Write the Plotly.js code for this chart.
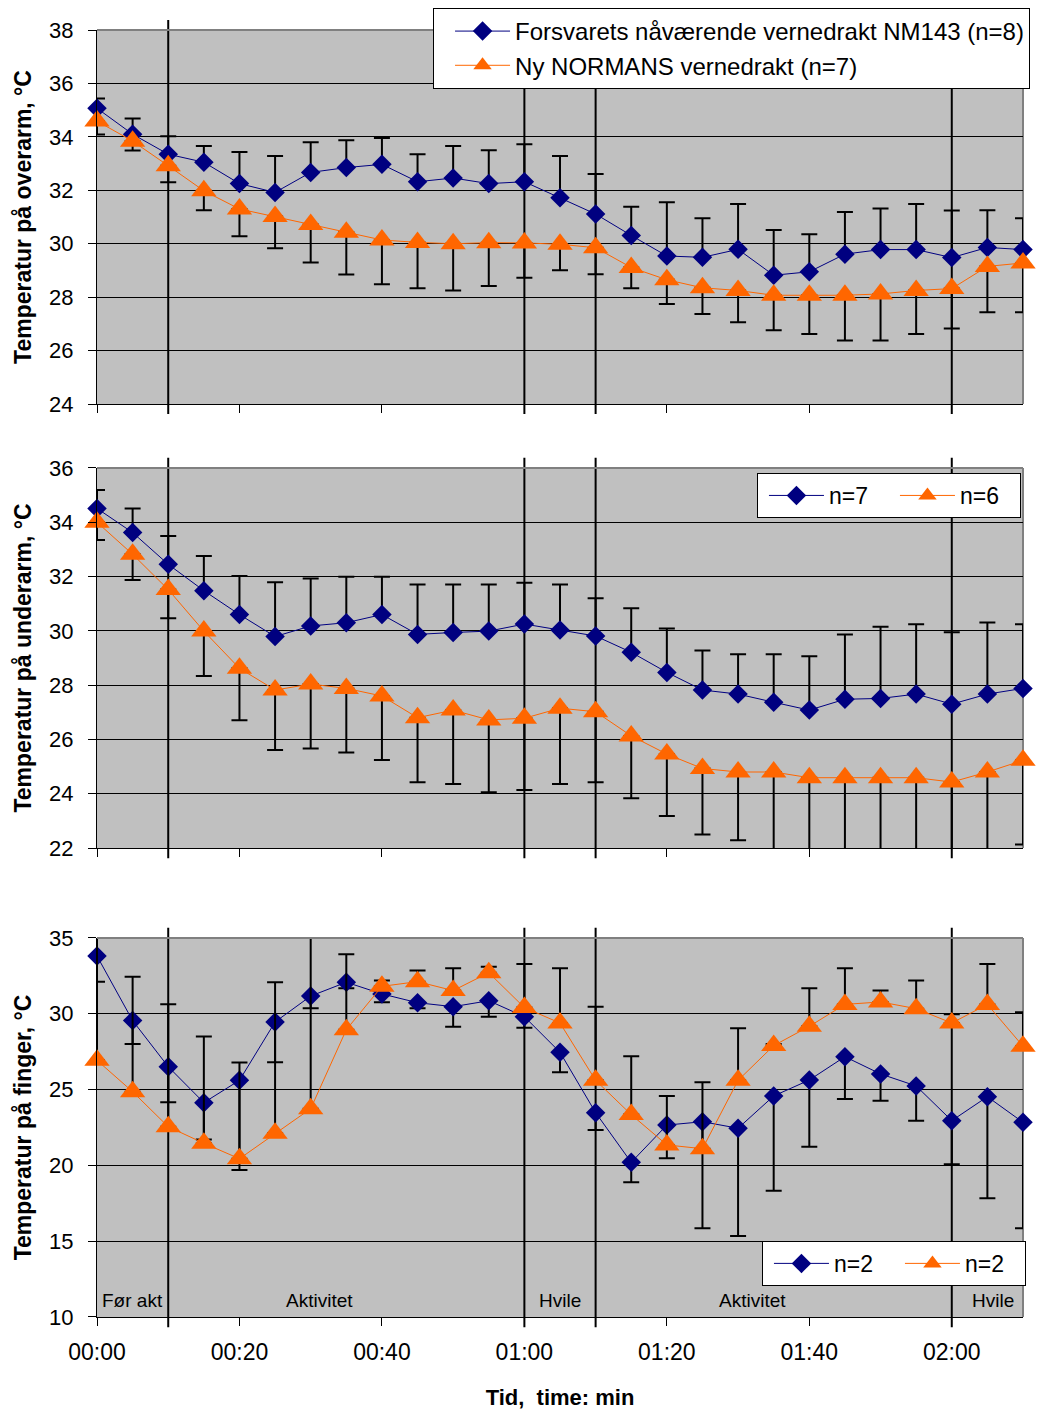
<!DOCTYPE html>
<html>
<head>
<meta charset="utf-8">
<script src="https://cdn.plot.ly/plotly-3.0.1.min.js"></script>
<style>
  html, body { margin: 0; padding: 0; background: #ffffff; }
  #chart { width: 1040px; height: 1410px; }
</style>
</head>
<body>
<div id="chart"></div>
<script>
// Measurement times (minutes from start) and x-axis labels
const minutes = [0, 5, 10, 15, 20, 25, 30, 35, 40, 45, 50, 55, 60, 65, 70, 75, 80, 85, 90, 95, 100, 105, 110, 115, 120, 125, 130];
const tickMinutes = [0, 20, 40, 60, 80, 100, 120];
const tickLabels = ['00:00', '00:20', '00:40', '01:00', '01:20', '01:40', '02:00'];

// Phase boundaries and phase names
const phaseBounds = [10, 60, 70, 120];
const phaseNames = ['Før akt', 'Aktivitet', 'Hvile', 'Aktivitet', 'Hvile'];
const phaseNameMinutes = [5, 31.3, 65, 92, 125.8];

// Upper arm (overarm): NM143 mean + SD up, NORMANS mean + SD down
const overarmNM143 = [35.07, 34.10, 33.35, 33.05, 32.25, 31.92, 32.67, 32.85, 32.97, 32.32, 32.46, 32.25, 32.32, 31.72, 31.11, 30.31, 29.54, 29.49, 29.79, 28.82, 28.95, 29.61, 29.78, 29.78, 29.48, 29.86, 29.78];
const overarmNM143Plus = [0.37, 0.59, 0.67, 0.61, 1.18, 1.36, 1.13, 1.02, 0.99, 1.03, 1.20, 1.25, 1.40, 1.56, 1.50, 1.07, 2.01, 1.46, 1.70, 1.69, 1.40, 1.58, 1.54, 1.71, 1.76, 1.39, 1.17];
const overarmNormans = [34.59, 33.84, 32.92, 31.98, 31.30, 31.02, 30.72, 30.43, 30.14, 30.05, 30.00, 30.04, 30.03, 29.98, 29.85, 29.11, 28.65, 28.35, 28.25, 28.07, 28.07, 28.07, 28.12, 28.25, 28.32, 29.15, 29.28];
const overarmNormansMinus = [0.50, 0.35, 0.62, 0.73, 1.02, 1.19, 1.42, 1.58, 1.66, 1.72, 1.75, 1.62, 1.30, 0.97, 0.99, 0.78, 0.91, 0.98, 1.19, 1.31, 1.45, 1.69, 1.74, 1.63, 1.49, 1.72, 1.85];

// Forearm (underarm)
const underarmNM143 = [34.51, 33.62, 32.45, 31.48, 30.60, 29.79, 30.18, 30.30, 30.60, 29.87, 29.94, 29.99, 30.25, 30.03, 29.81, 29.21, 28.47, 27.82, 27.67, 27.37, 27.08, 27.48, 27.51, 27.67, 27.30, 27.67, 27.88];
const underarmNM143Plus = [0.68, 0.89, 1.04, 1.28, 1.42, 2.00, 1.75, 1.69, 1.39, 1.84, 1.77, 1.72, 1.52, 1.68, 1.39, 1.62, 1.62, 1.46, 1.47, 1.77, 1.98, 2.39, 2.64, 2.57, 2.65, 2.64, 2.36];
const underarmNormans = [34.00, 32.82, 31.52, 29.99, 28.62, 27.82, 28.04, 27.88, 27.60, 26.80, 27.08, 26.72, 26.78, 27.15, 27.02, 26.13, 25.46, 24.93, 24.80, 24.80, 24.59, 24.59, 24.59, 24.59, 24.43, 24.80, 25.23];
const underarmNormansMinus = [0.65, 0.95, 1.06, 1.65, 1.91, 2.21, 2.37, 2.36, 2.36, 2.38, 2.72, 2.67, 2.64, 2.79, 2.60, 2.30, 2.28, 2.43, 2.51, 2.87, 2.93, 3.00, 3.00, 3.00, 2.85, 3.20, 3.10];

// Finger: NM143 SD down, NORMANS SD up
const fingerNM143 = [33.81, 29.55, 26.51, 24.14, 25.61, 29.46, 31.17, 32.08, 31.31, 30.73, 30.47, 30.86, 29.81, 27.46, 23.48, 20.20, 22.66, 22.88, 22.45, 24.58, 25.63, 27.17, 26.03, 25.24, 22.95, 24.53, 22.84];
const fingerNM143Minus = [1.69, 1.55, 2.35, 2.44, 5.91, 2.66, 0.81, 0.40, 0.55, 0.37, 1.32, 1.05, 0.73, 1.32, 1.15, 1.32, 2.19, 7.03, 7.11, 6.25, 4.40, 2.79, 1.76, 2.29, 2.88, 6.70, 6.99];
const fingerNormans = [26.93, 24.86, 22.55, 21.46, 20.44, 22.12, 23.74, 28.95, 31.81, 32.12, 31.53, 32.71, 30.41, 29.39, 25.61, 23.35, 21.35, 21.10, 25.61, 27.90, 29.17, 30.62, 30.78, 30.34, 29.39, 30.62, 27.86];
const fingerNormansPlus = [8.07, 7.59, 8.08, 7.04, 6.34, 9.96, 11.90, 4.97, 0.38, 0.73, 1.47, 0.39, 2.87, 3.61, 4.86, 3.85, 3.23, 4.38, 3.43, 0.10, 2.51, 2.38, 0.75, 1.85, 0.58, 2.66, 2.24];

// Series names shown in each panel's legend
const namesOverarm = ['Forsvarets nåværende vernedrakt NM143 (n=8)', 'Ny NORMANS vernedrakt (n=7)'];
const namesUnderarm = ['n=7', 'n=6'];
const namesFinger = ['n=2', 'n=2'];
const yTitles = ['Temperatur på overarm, °C', 'Temperatur på underarm, °C', 'Temperatur på finger, °C'];

const FONT = 'Liberation Sans, Arial, Helvetica, sans-serif';
const NAVY = '#000080';
const ORANGE = '#FF6600';
const none = minutes.map(() => 0);

function errorBars(plus, minus) {
  return { type: 'data', symmetric: false, array: plus, arrayminus: minus,
           color: '#000000', thickness: 2, width: 8 };
}

function nm143(suffix, legendId, name, y, plus, minus) {
  return {
    type: 'scatter', mode: 'lines+markers', x: minutes, y: y, name: name,
    xaxis: 'x' + suffix, yaxis: 'y' + suffix, legend: legendId, cliponaxis: false,
    line: { color: NAVY, width: 1 },
    marker: { symbol: 'diamond', size: 15, color: NAVY },
    error_y: errorBars(plus, minus)
  };
}

function normans(suffix, legendId, name, y, plus, minus) {
  return {
    type: 'scatter', mode: 'lines+markers', x: minutes, y: y, name: name,
    xaxis: 'x' + suffix, yaxis: 'y' + suffix, legend: legendId, cliponaxis: false,
    line: { color: ORANGE, width: 1 },
    marker: { symbol: 'triangle-up', size: 22, color: ORANGE },
    error_y: errorBars(plus, minus)
  };
}

const traces = [
  nm143('', 'legend', namesOverarm[0], overarmNM143, overarmNM143Plus, none),
  normans('', 'legend', namesOverarm[1], overarmNormans, none, overarmNormansMinus),
  nm143('2', 'legend2', namesUnderarm[0], underarmNM143, underarmNM143Plus, none),
  normans('2', 'legend2', namesUnderarm[1], underarmNormans, none, underarmNormansMinus),
  nm143('3', 'legend3', namesFinger[0], fingerNM143, none, fingerNM143Minus),
  normans('3', 'legend3', namesFinger[1], fingerNormans, fingerNormansPlus, none)
];

function xAxis(anchor, showLabels, title) {
  const ax = {
    anchor: anchor, domain: [0, 1], range: [0, 130],
    tickmode: 'array', tickvals: tickMinutes, ticktext: tickLabels,
    showticklabels: showLabels, ticks: 'outside', ticklen: 8, tickwidth: 1, tickcolor: '#000',
    ticklabelstandoff: 6,
    showgrid: false, zeroline: false, showline: true, linecolor: '#000', linewidth: 1,
    tickfont: { family: FONT, size: 23, color: '#000' }, fixedrange: true
  };
  if (title) {
    ax.title = { text: title, standoff: 26, font: { family: FONT, size: 22, color: '#000', weight: 'bold' } };
  }
  return ax;
}

function yAxis(anchor, domain, range, dtick, title) {
  return {
    anchor: anchor, domain: domain, range: range, tick0: range[0], dtick: dtick,
    ticks: 'outside', ticklen: 8, tickwidth: 1, tickcolor: '#000', ticklabelstandoff: 10,
    showgrid: true, gridcolor: '#000', gridwidth: 1,
    zeroline: false, showline: true, linecolor: '#000', linewidth: 1,
    tickfont: { family: FONT, size: 22, color: '#000' }, fixedrange: true,
    title: { text: title, standoff: 11, font: { family: FONT, size: 23, color: '#000', weight: 'bold' } }
  };
}

// Phase separators, extending a little past each panel, plus the grey plot frame
const shapes = [];
['', '2', '3'].forEach(function (s) {
  phaseBounds.forEach(function (t) {
    shapes.push({ type: 'line', layer: 'below', xref: 'x' + s, yref: 'y' + s + ' domain',
                  x0: t, x1: t, y0: -0.027, y1: 1.027, line: { color: '#000', width: 2 } });
  });
  shapes.push({ type: 'line', layer: 'above', xref: 'x' + s + ' domain', yref: 'y' + s + ' domain',
                x0: 0, x1: 1, y0: 1, y1: 1, line: { color: '#808080', width: 2 } });
  shapes.push({ type: 'line', layer: 'below', xref: 'x' + s + ' domain', yref: 'y' + s + ' domain',
                x0: 1, x1: 1, y0: 0, y1: 1, line: { color: '#808080', width: 2 } });
});

const annotations = phaseNames.map(function (txt, i) {
  return { xref: 'x3', yref: 'y3', x: phaseNameMinutes[i], y: 11.1, text: txt, showarrow: false,
           xanchor: 'center', yanchor: 'middle', font: { family: FONT, size: 19, color: '#000' } };
});

function legendBox(x, y, horizontal, fontSize, indent) {
  const lg = {
    x: x, y: y, xanchor: 'left', yanchor: 'top', bgcolor: '#ffffff', bordercolor: '#000000', borderwidth: 1,
    font: { family: FONT, size: fontSize, color: '#000' }, itemwidth: 55, indentation: indent,
    itemclick: false, itemdoubleclick: false
  };
  if (horizontal) { lg.orientation = 'h'; lg.entrywidth = 55; lg.entrywidthmode = 'pixels'; }
  return lg;
}

const layout = {
  width: 1040, height: 1410,
  margin: { l: 97, r: 17, t: 30, b: 93, autoexpand: false },
  paper_bgcolor: '#ffffff', plot_bgcolor: '#c0c0c0',
  font: { family: FONT, color: '#000' },
  showlegend: true,
  xaxis: xAxis('y', false),
  yaxis: yAxis('x', [0.7094, 1], [24, 38], 2, yTitles[0]),
  xaxis2: xAxis('y2', false),
  yaxis2: yAxis('x2', [0.3644, 0.6597], [22, 36], 2, yTitles[1]),
  xaxis3: xAxis('y3', true, 'Tid,\u00a0 time: min'),
  yaxis3: yAxis('x3', [0, 0.2945], [10, 35], 5, yTitles[2]),
  legend: legendBox(0.3629, 1.0171, false, 24, 16),
  legend2: legendBox(0.7127, 0.6558, true, 23, 6),
  legend3: legendBox(0.7181, 0.0591, true, 23, 6),
  shapes: shapes,
  annotations: annotations
};

Plotly.newPlot('chart', traces, layout, { staticPlot: true, displayModeBar: false });
</script>
</body>
</html>
